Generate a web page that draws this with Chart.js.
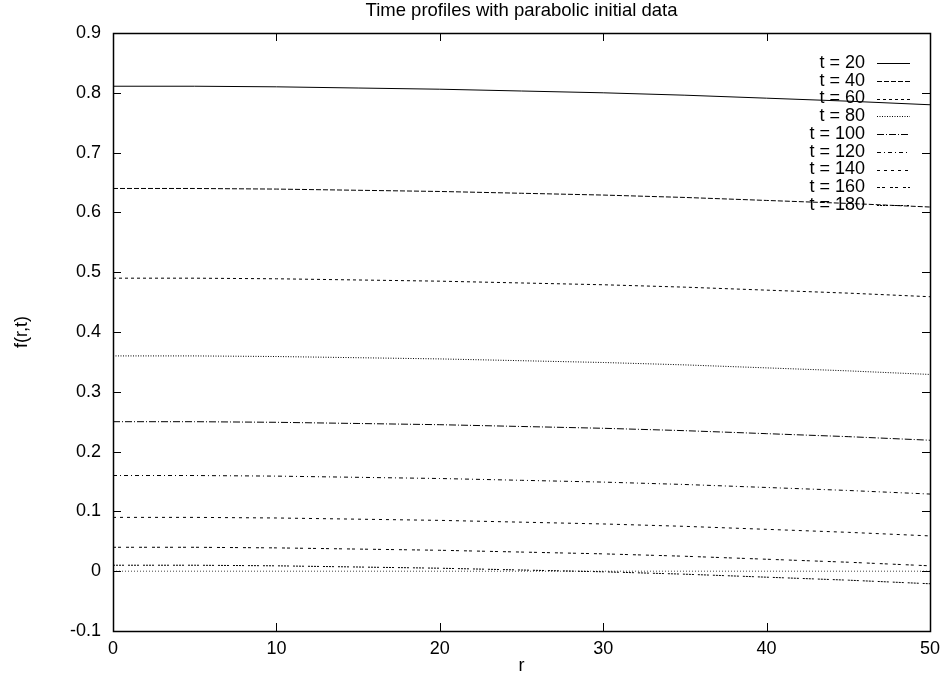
<!DOCTYPE html>
<html>
<head>
<meta charset="utf-8">
<title>Time profiles with parabolic initial data</title>
<script src="https://cdn.jsdelivr.net/npm/chart.js@4/dist/chart.umd.min.js"></script>
<style>
  html, body { margin: 0; padding: 0; background: #ffffff; }
  canvas { display: block; }
</style>
</head>
<body>
<canvas id="profiles" width="942" height="675"></canvas>
<script>
// Radial positions at which each profile is sampled
const radii = [0, 5, 10, 15, 20, 25, 30, 35, 40, 45, 50];

// Series names, one per time level
const timeLabels = ['t = 20', 't = 40', 't = 60', 't = 80', 't = 100', 't = 120', 't = 140', 't = 160', 't = 180'];

// f(r,t) for each time level
const profileT20  = [0.811, 0.811, 0.810, 0.808, 0.806, 0.803, 0.800, 0.796, 0.791, 0.786, 0.780];
const profileT40  = [0.640, 0.640, 0.639, 0.637, 0.635, 0.632, 0.629, 0.625, 0.620, 0.615, 0.609];
const profileT60  = [0.490, 0.490, 0.489, 0.487, 0.485, 0.482, 0.479, 0.475, 0.470, 0.465, 0.459];
const profileT80  = [0.360, 0.360, 0.359, 0.357, 0.355, 0.352, 0.349, 0.345, 0.340, 0.335, 0.329];
const profileT100 = [0.250, 0.250, 0.249, 0.247, 0.245, 0.242, 0.239, 0.235, 0.230, 0.225, 0.219];
const profileT120 = [0.160, 0.160, 0.159, 0.157, 0.155, 0.152, 0.149, 0.145, 0.140, 0.135, 0.129];
const profileT140 = [0.090, 0.090, 0.089, 0.087, 0.085, 0.082, 0.079, 0.075, 0.070, 0.065, 0.059];
const profileT160 = [0.040, 0.040, 0.039, 0.037, 0.035, 0.032, 0.029, 0.025, 0.020, 0.015, 0.009];
const profileT180 = [0.010, 0.010, 0.009, 0.007, 0.005, 0.002, -0.001, -0.005, -0.010, -0.015, -0.021];

// Zero axis line
const zeroLine = [0, 0];
const zeroLineR = [0, 50];

// Axis ticks
const xTicks = [0, 10, 20, 30, 40, 50];
const yTicks = [-0.1, 0, 0.1, 0.2, 0.3, 0.4, 0.5, 0.6, 0.7, 0.8, 0.9];

const chartTitle = 'Time profiles with parabolic initial data';

const profiles = [profileT20, profileT40, profileT60, profileT80, profileT100,
                  profileT120, profileT140, profileT160, profileT180];

// Monochrome line styles, one per series
const dashes = [
  [],
  [5, 2],
  [3, 3],
  [1, 1.5],
  [7, 2, 1, 2],
  [4, 3, 1, 3],
  [3, 4],
  [3, 2, 3, 5],
  [2, 1, 2, 1, 2, 1, 2, 4]
];

const FONT = '"Liberation Sans", Arial, Helvetica, sans-serif';

const datasets = profiles.map((vals, i) => ({
  label: timeLabels[i],
  data: radii.map((r, j) => ({ x: r, y: vals[j] })),
  borderColor: '#000000',
  borderWidth: 1,
  borderDash: dashes[i],
  pointRadius: 0,
  fill: false,
  tension: 0
}));

datasets.push({
  label: '',
  isAxis: true,
  data: zeroLineR.map((r, j) => ({ x: r, y: zeroLine[j] })),
  borderColor: '#444444',
  borderWidth: 1,
  borderDash: [1, 2],
  pointRadius: 0,
  fill: false,
  tension: 0
});

// Frame with inward tick marks on all four sides, plus the title centred over the plot
const framePlugin = {
  id: 'frame',
  afterDatasetsDraw(chart) {
    const { ctx, chartArea: a, scales } = chart;
    const tl = 8;
    ctx.save();
    ctx.strokeStyle = '#000000';
    ctx.lineWidth = 1;
    ctx.setLineDash([]);
    ctx.beginPath();
    xTicks.forEach(v => {
      const px = Math.round(scales.x.getPixelForValue(v)) + 0.5;
      ctx.moveTo(px, a.bottom); ctx.lineTo(px, a.bottom - tl);
      ctx.moveTo(px, a.top); ctx.lineTo(px, a.top + tl);
    });
    yTicks.forEach(v => {
      const py = Math.round(scales.y.getPixelForValue(v)) + 0.5;
      ctx.moveTo(a.left, py); ctx.lineTo(a.left + tl, py);
      ctx.moveTo(a.right, py); ctx.lineTo(a.right - tl, py);
    });
    ctx.stroke();
    ctx.lineWidth = 1.5;
    ctx.strokeRect(Math.round(a.left) + 0.5, Math.round(a.top) + 0.5,
                   Math.round(a.right - a.left), Math.round(a.bottom - a.top));

    ctx.font = '18.5px ' + FONT;
    ctx.fillStyle = '#000000';
    ctx.textAlign = 'center';
    ctx.textBaseline = 'middle';
    ctx.fillText(chartTitle, (a.left + a.right) / 2, 11);
    ctx.restore();
  }
};

// Key in the upper right, text right-aligned before each line sample
const keyPlugin = {
  id: 'key',
  afterDatasetsDraw(chart) {
    const { ctx, chartArea: a } = chart;
    const textRight = a.right - 65;
    const sampleL = a.right - 53;
    const sampleR = a.right - 20;
    const top = a.top + 30;
    const step = 17.75;
    ctx.save();
    ctx.font = '18px ' + FONT;
    ctx.fillStyle = '#000000';
    ctx.textAlign = 'right';
    ctx.textBaseline = 'middle';
    let row = 0;
    chart.data.datasets.forEach(ds => {
      if (ds.isAxis) return;
      const y = top + row * step;
      ctx.fillText(ds.label, textRight, y);
      ctx.strokeStyle = ds.borderColor;
      ctx.lineWidth = 1;
      ctx.setLineDash(ds.borderDash);
      ctx.beginPath();
      ctx.moveTo(sampleL, Math.round(y) + 0.5);
      ctx.lineTo(sampleR, Math.round(y) + 0.5);
      ctx.stroke();
      row++;
    });
    ctx.restore();
  }
};

new Chart(document.getElementById('profiles'), {
  type: 'line',
  data: { datasets },
  plugins: [framePlugin, keyPlugin],
  options: {
    responsive: false,
    animation: false,
    devicePixelRatio: 1,
    layout: { padding: { left: 0, right: 12, top: 33, bottom: 0 } },
    plugins: {
      legend: { display: false },
      tooltip: { enabled: false },
      title: { display: false }
    },
    scales: {
      x: {
        type: 'linear',
        min: 0,
        max: 50,
        afterBuildTicks: s => { s.ticks = xTicks.map(v => ({ value: v })); },
        afterFit: s => { s.height = 44; s.paddingLeft = 0; s.paddingRight = 0; },
        grid: { display: false, drawTicks: false },
        border: { display: false },
        ticks: {
          color: '#000000',
          padding: 7,
          maxRotation: 0,
          font: { family: FONT, size: 18 },
          callback: v => String(v)
        },
        title: {
          display: true,
          text: 'r',
          color: '#000000',
          font: { family: FONT, size: 18, lineHeight: 1.0 },
          padding: { top: 0, bottom: 0 }
        }
      },
      y: {
        type: 'linear',
        min: -0.1,
        max: 0.9,
        afterBuildTicks: s => { s.ticks = yTicks.map(v => ({ value: v })); },
        afterFit: s => { s.width = 113; s.paddingTop = 0; s.paddingBottom = 0; },
        grid: { display: false, drawTicks: false },
        border: { display: false },
        ticks: {
          color: '#000000',
          padding: 12,
          font: { family: FONT, size: 18 },
          callback: v => String(Number(v.toFixed(1)))
        },
        title: {
          display: true,
          text: 'f(r,t)',
          color: '#000000',
          font: { family: FONT, size: 18 },
          padding: { top: 11, bottom: 0 }
        }
      }
    }
  }
});
</script>
</body>
</html>
